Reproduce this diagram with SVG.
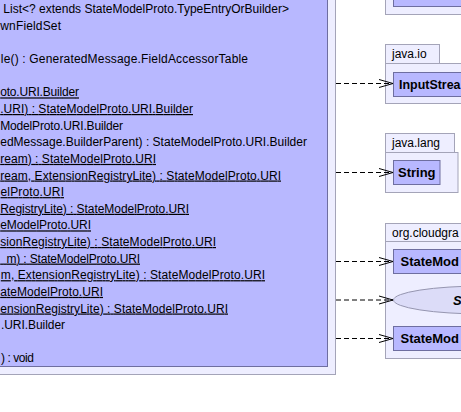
<svg xmlns="http://www.w3.org/2000/svg" width="461" height="412" viewBox="0 0 461 412">
<style>
.m{font-family:"Liberation Sans",Arial,sans-serif;font-size:12px;fill:#000;white-space:pre}
.u{text-decoration:underline}
.pk{fill:#eeeeff;stroke:#a4a4b8;stroke-width:1}
.cl{fill:#b8b8ff;stroke:#6e6ea0;stroke-width:1}
.pl{font-family:"Liberation Sans",Arial,sans-serif;font-size:12px;fill:#000}
.cn{font-family:"Liberation Sans",Arial,sans-serif;font-size:13px;font-weight:bold;fill:#000}
.dep{fill:none;stroke:#000;stroke-width:1;stroke-dasharray:5,3}
</style>
<defs>
<marker id="ah" markerWidth="16" markerHeight="10" refX="14" refY="5" orient="auto" markerUnits="userSpaceOnUse">
<path d="M0,1 L14,5 L0,9" fill="none" stroke="#000" stroke-width="1"/>
</marker>
</defs>
<rect width="461" height="412" fill="#fff"/>
<g id="main-class">
<rect x="-10" y="-10" width="345.5" height="384.5" fill="#eeeeff" stroke="#a4a4b8"/>
<rect x="-10" y="-10" width="337.5" height="376.5" class="cl"/>
<text class="m" x="3.3" y="13.3" textLength="285.7" lengthAdjust="spacing">List&lt;? extends StateModelProto.TypeEntryOrBuilder&gt;</text>
<text class="m" x="0.3" y="29.9" textLength="60.7" lengthAdjust="spacing">wnFieldSet</text>
<text class="m" x="0.8" y="63.2" textLength="247.2" lengthAdjust="spacing">le() : GeneratedMessage.FieldAccessorTable</text>
<text class="m u" x="0.2" y="96.4" textLength="78.8" lengthAdjust="spacing">oto.URI.Builder</text>
<text class="m u" x="0.2" y="113" textLength="192.8" lengthAdjust="spacing">.URI) : StateModelProto.URI.Builder</text>
<text class="m" x="0.2" y="129.6" textLength="122.8" lengthAdjust="spacing">ModelProto.URI.Builder</text>
<text class="m" x="0.2" y="146.3" textLength="306.8" lengthAdjust="spacing">edMessage.BuilderParent) : StateModelProto.URI.Builder</text>
<text class="m u" x="0.2" y="162.9" textLength="155.8" lengthAdjust="spacing">ream) : StateModelProto.URI</text>
<text class="m u" x="0.2" y="179.5" textLength="280.8" lengthAdjust="spacing">ream, ExtensionRegistryLite) : StateModelProto.URI</text>
<text class="m u" x="0.5" y="196.1" textLength="63.5" lengthAdjust="spacing">elProto.URI</text>
<text class="m u" x="0.2" y="212.8" textLength="188.8" lengthAdjust="spacing">RegistryLite) : StateModelProto.URI</text>
<text class="m u" x="0.2" y="229.4" textLength="90.8" lengthAdjust="spacing">eModelProto.URI</text>
<text class="m u" x="0.2" y="246" textLength="215.8" lengthAdjust="spacing">sionRegistryLite) : StateModelProto.URI</text>
<text class="m u" x="0.2" y="262.6" textLength="139.8" lengthAdjust="spacing">  m) : StateModelProto.URI</text>
<text class="m u" x="0.8" y="279.2" textLength="264.2" lengthAdjust="spacing">m, ExtensionRegistryLite) : StateModelProto.URI</text>
<text class="m u" x="0.2" y="295.9" textLength="102.8" lengthAdjust="spacing">ateModelProto.URI</text>
<text class="m u" x="0.2" y="312.5" textLength="227.8" lengthAdjust="spacing">ensionRegistryLite) : StateModelProto.URI</text>
<text class="m" x="1" y="329.1" textLength="64" lengthAdjust="spacing">.URI.Builder</text>
<text class="m" x="1" y="362.3" textLength="33" lengthAdjust="spacing">) : void</text>
</g>
<g id="pkg-top">
<rect x="385.5" y="-10" width="90" height="24.5" class="pk"/>
<rect x="393.5" y="-10" width="80" height="16.5" class="cl"/>
</g>
<g id="pkg-java-io">
<rect x="385.5" y="44.5" width="54" height="19" class="pk"/>
<rect x="385.5" y="63.5" width="90" height="40" class="pk"/>
<text class="pl" x="392" y="58">java.io</text>
<g id="InputStream">
<rect x="393.5" y="72.5" width="80" height="24" class="cl"/>
<text class="cn" x="399" y="89" textLength="61.5" lengthAdjust="spacingAndGlyphs">InputStrea</text>
</g>
</g>
<g id="pkg-java-lang">
<rect x="385.5" y="133.5" width="69" height="19" class="pk"/>
<rect x="385.5" y="152.5" width="72.5" height="40" class="pk"/>
<text class="pl" x="392" y="147">java.lang</text>
<g id="String">
<rect x="393.5" y="160.5" width="46.5" height="24" class="cl"/>
<text class="cn" x="398" y="177">String</text>
</g>
</g>
<g id="pkg-org-cloudgraph">
<rect x="385.5" y="223.5" width="90" height="18" class="pk"/>
<rect x="385.5" y="241.5" width="90" height="117" class="pk"/>
<text class="pl" x="392" y="236.5">org.cloudgra</text>
<g id="StateMod1">
<rect x="393.5" y="249.5" width="80" height="24" class="cl"/>
<text class="cn" x="400.5" y="266">StateMod</text>
</g>
<g id="S-interface">
<ellipse cx="483.5" cy="300" rx="90" ry="14" fill="#dcdcf8" stroke="#9696b0"/>
<text class="cn" x="453" y="305" font-style="italic">S</text>
</g>
<g id="StateMod2">
<rect x="393.5" y="326.5" width="80" height="24" class="cl"/>
<text class="cn" x="400.5" y="343">StateMod</text>
</g>
</g>
<g id="connectors">
<line class="dep" x1="336" y1="83.5" x2="393" y2="83.5" marker-end="url(#ah)"/>
<line class="dep" x1="336" y1="172.5" x2="393" y2="172.5" marker-end="url(#ah)"/>
<line class="dep" x1="336" y1="261.5" x2="393" y2="261.5" marker-end="url(#ah)"/>
<line class="dep" x1="336" y1="300" x2="393" y2="300" marker-end="url(#ah)"/>
<line class="dep" x1="336" y1="338.5" x2="393" y2="338.5" marker-end="url(#ah)"/>
</g>
</svg>
